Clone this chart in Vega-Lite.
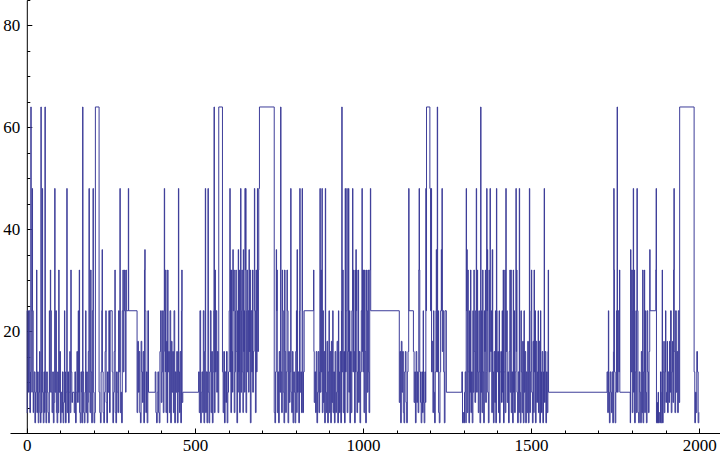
{
"$schema":"https://vega.github.io/schema/vega-lite/v6.json",
"width":710,"height":433,"autosize":"none",
"padding":{"left":10,"top":0,"right":0,"bottom":28},
"background":"white",
"config":{"view":{"stroke":null},"axis":{"domainColor":"#000","tickColor":"#000","labelColor":"#000","labelFont":"Liberation Serif","labelFontSize":17,"grid":false,"labelFlush":false,"labelOverlap":false,"domainWidth":1,"tickWidth":1}},
"data":{"values":[
{"x":0,"y":4},{"x":1,"y":24},{"x":5,"y":8},{"x":7,"y":24},{"x":9,"y":4},{"x":11,"y":12},{"x":12,"y":64},{"x":13,"y":24},{"x":15,"y":8},{"x":16,"y":48},{"x":17,"y":24},{"x":19,"y":4},{"x":20,"y":8},{"x":22,"y":12},{"x":24,"y":2},{"x":26,"y":8},{"x":28,"y":12},{"x":29,"y":32},{"x":30,"y":4},{"x":32,"y":12},{"x":34,"y":2},{"x":36,"y":8},{"x":38,"y":16},{"x":39,"y":4},{"x":41,"y":2},{"x":42,"y":64},{"x":43,"y":4},{"x":45,"y":12},{"x":46,"y":48},{"x":47,"y":8},{"x":49,"y":2},{"x":51,"y":12},{"x":53,"y":4},{"x":54,"y":64},{"x":55,"y":8},{"x":57,"y":2},{"x":59,"y":12},{"x":61,"y":8},{"x":63,"y":4},{"x":65,"y":2},{"x":67,"y":24},{"x":68,"y":8},{"x":70,"y":32},{"x":71,"y":24},{"x":73,"y":8},{"x":75,"y":4},{"x":77,"y":12},{"x":79,"y":2},{"x":81,"y":6},{"x":83,"y":48},{"x":84,"y":8},{"x":86,"y":24},{"x":88,"y":4},{"x":90,"y":2},{"x":92,"y":12},{"x":93,"y":4},{"x":95,"y":32},{"x":96,"y":8},{"x":98,"y":16},{"x":100,"y":2},{"x":102,"y":8},{"x":104,"y":4},{"x":106,"y":12},{"x":108,"y":2},{"x":110,"y":6},{"x":112,"y":24},{"x":113,"y":12},{"x":115,"y":2},{"x":117,"y":8},{"x":119,"y":48},{"x":120,"y":4},{"x":122,"y":12},{"x":124,"y":2},{"x":126,"y":8},{"x":128,"y":16},{"x":129,"y":4},{"x":131,"y":32},{"x":132,"y":12},{"x":134,"y":6},{"x":136,"y":8},{"x":141,"y":4},{"x":143,"y":12},{"x":145,"y":2},{"x":147,"y":8},{"x":149,"y":16},{"x":151,"y":6},{"x":153,"y":24},{"x":154,"y":8},{"x":156,"y":32},{"x":157,"y":4},{"x":159,"y":2},{"x":161,"y":12},{"x":163,"y":8},{"x":164,"y":2},{"x":166,"y":64},{"x":167,"y":12},{"x":169,"y":4},{"x":171,"y":2},{"x":173,"y":8},{"x":175,"y":24},{"x":176,"y":4},{"x":178,"y":12},{"x":180,"y":2},{"x":182,"y":6},{"x":183,"y":16},{"x":185,"y":48},{"x":186,"y":8},{"x":188,"y":4},{"x":190,"y":32},{"x":191,"y":12},{"x":193,"y":2},{"x":195,"y":24},{"x":197,"y":48},{"x":198,"y":8},{"x":200,"y":2},{"x":202,"y":4},{"x":204,"y":64},{"x":215,"y":8},{"x":217,"y":4},{"x":219,"y":2},{"x":221,"y":12},{"x":223,"y":24},{"x":224,"y":36},{"x":225,"y":12},{"x":227,"y":4},{"x":229,"y":2},{"x":231,"y":8},{"x":233,"y":16},{"x":235,"y":24},{"x":236,"y":6},{"x":238,"y":2},{"x":240,"y":12},{"x":242,"y":8},{"x":244,"y":24},{"x":246,"y":4},{"x":248,"y":24},{"x":254,"y":12},{"x":256,"y":2},{"x":258,"y":8},{"x":260,"y":16},{"x":262,"y":32},{"x":263,"y":4},{"x":265,"y":2},{"x":267,"y":12},{"x":269,"y":8},{"x":271,"y":4},{"x":273,"y":24},{"x":275,"y":12},{"x":277,"y":48},{"x":278,"y":4},{"x":280,"y":8},{"x":282,"y":2},{"x":284,"y":24},{"x":286,"y":32},{"x":287,"y":12},{"x":289,"y":24},
{"x":291,"y":32},{"x":292,"y":24},{"x":294,"y":8},{"x":295,"y":32},{"x":296,"y":24},{"x":302,"y":48},{"x":303,"y":24},{"x":328,"y":4},{"x":330,"y":18},{"x":332,"y":8},{"x":334,"y":16},{"x":336,"y":4},{"x":338,"y":2},{"x":340,"y":18},{"x":342,"y":12},{"x":344,"y":6},{"x":346,"y":16},{"x":348,"y":2},{"x":350,"y":32},{"x":351,"y":36},{"x":352,"y":24},{"x":354,"y":4},{"x":356,"y":12},{"x":358,"y":2},{"x":360,"y":24},{"x":362,"y":8},{"x":382,"y":12},{"x":384,"y":4},{"x":386,"y":2},{"x":388,"y":8},{"x":390,"y":12},{"x":392,"y":4},{"x":394,"y":2},{"x":396,"y":16},{"x":398,"y":24},{"x":400,"y":6},{"x":402,"y":12},{"x":404,"y":24},{"x":406,"y":4},{"x":408,"y":16},{"x":409,"y":48},{"x":410,"y":24},{"x":412,"y":12},{"x":413,"y":32},{"x":414,"y":4},{"x":416,"y":18},{"x":418,"y":2},{"x":419,"y":32},{"x":420,"y":12},{"x":422,"y":16},{"x":424,"y":4},{"x":426,"y":24},{"x":428,"y":2},{"x":430,"y":18},{"x":432,"y":8},{"x":434,"y":16},{"x":436,"y":4},{"x":438,"y":24},{"x":440,"y":2},{"x":442,"y":12},{"x":444,"y":8},{"x":446,"y":16},{"x":448,"y":2},{"x":450,"y":8},{"x":451,"y":48},{"x":452,"y":12},{"x":454,"y":4},{"x":456,"y":16},{"x":458,"y":2},{"x":460,"y":24},{"x":461,"y":32},{"x":462,"y":6},{"x":464,"y":8},{"x":511,"y":12},{"x":513,"y":4},{"x":515,"y":24},{"x":517,"y":2},{"x":519,"y":8},{"x":521,"y":12},{"x":523,"y":4},{"x":525,"y":24},{"x":527,"y":2},{"x":529,"y":16},{"x":531,"y":48},{"x":532,"y":4},{"x":534,"y":12},{"x":536,"y":2},{"x":538,"y":12},{"x":539,"y":48},{"x":540,"y":8},{"x":542,"y":2},{"x":544,"y":12},{"x":546,"y":24},{"x":548,"y":4},{"x":550,"y":16},{"x":552,"y":2},{"x":554,"y":12},{"x":556,"y":24},{"x":557,"y":64},{"x":558,"y":4},{"x":560,"y":32},{"x":561,"y":12},{"x":563,"y":24},{"x":565,"y":8},{"x":567,"y":16},{"x":569,"y":4},
{"x":571,"y":64},{"x":582,"y":12},{"x":584,"y":4},{"x":586,"y":16},{"x":588,"y":2},{"x":590,"y":12},{"x":592,"y":6},{"x":594,"y":16},{"x":596,"y":2},{"x":598,"y":8},{"x":600,"y":12},{"x":602,"y":24},{"x":604,"y":48},{"x":605,"y":12},{"x":606,"y":32},{"x":607,"y":4},{"x":609,"y":32},{"x":610,"y":16},{"x":612,"y":8},{"x":613,"y":36},{"x":614,"y":24},{"x":616,"y":32},{"x":617,"y":4},{"x":619,"y":12},{"x":621,"y":24},{"x":622,"y":32},{"x":623,"y":16},{"x":625,"y":2},{"x":627,"y":24},{"x":628,"y":8},{"x":629,"y":36},{"x":630,"y":12},{"x":632,"y":32},{"x":633,"y":4},{"x":635,"y":24},{"x":636,"y":48},{"x":637,"y":8},{"x":639,"y":24},{"x":640,"y":32},{"x":641,"y":12},{"x":643,"y":4},{"x":644,"y":36},{"x":645,"y":16},{"x":647,"y":24},{"x":648,"y":8},{"x":649,"y":48},{"x":650,"y":32},{"x":651,"y":48},{"x":652,"y":4},{"x":654,"y":24},{"x":655,"y":32},{"x":656,"y":12},{"x":658,"y":24},{"x":660,"y":8},{"x":661,"y":36},{"x":662,"y":16},{"x":664,"y":32},{"x":665,"y":2},{"x":667,"y":24},{"x":669,"y":12},{"x":671,"y":32},{"x":672,"y":8},{"x":674,"y":16},{"x":676,"y":32},{"x":677,"y":48},{"x":678,"y":24},{"x":680,"y":4},{"x":682,"y":32},{"x":683,"y":12},{"x":685,"y":24},{"x":686,"y":48},{"x":687,"y":16},{"x":689,"y":32},{"x":690,"y":48},{"x":692,"y":64},{"x":736,"y":4},{"x":738,"y":2},{"x":740,"y":12},{"x":742,"y":36},{"x":743,"y":24},{"x":744,"y":32},{"x":745,"y":4},{"x":747,"y":12},{"x":749,"y":2},{"x":751,"y":16},{"x":753,"y":8},{"x":755,"y":64},{"x":756,"y":12},{"x":758,"y":4},{"x":760,"y":32},{"x":761,"y":24},{"x":763,"y":8},{"x":765,"y":2},{"x":767,"y":32},{"x":768,"y":16},{"x":770,"y":4},{"x":772,"y":12},{"x":774,"y":32},{"x":775,"y":24},{"x":777,"y":2},{"x":779,"y":16},{"x":781,"y":6},{"x":783,"y":12},{"x":785,"y":48},{"x":786,"y":8},{"x":788,"y":4},{"x":790,"y":16},{"x":792,"y":2},{"x":794,"y":12},{"x":796,"y":8},{"x":798,"y":2},{"x":800,"y":16},{"x":802,"y":24},{"x":803,"y":4},{"x":804,"y":36},{"x":805,"y":8},{"x":807,"y":12},{"x":809,"y":2},{"x":811,"y":24},{"x":812,"y":48},{"x":813,"y":8},{"x":815,"y":12},{"x":817,"y":4},{"x":819,"y":48},{"x":820,"y":24},{"x":821,"y":4},{"x":823,"y":12},{"x":825,"y":24},{"x":853,"y":32},{"x":854,"y":16},
{"x":855,"y":6},{"x":857,"y":12},{"x":859,"y":4},{"x":861,"y":16},{"x":863,"y":2},{"x":865,"y":8},{"x":867,"y":16},{"x":869,"y":4},{"x":871,"y":12},{"x":872,"y":48},{"x":873,"y":8},{"x":875,"y":32},{"x":876,"y":12},{"x":878,"y":48},{"x":879,"y":4},{"x":881,"y":24},{"x":882,"y":6},{"x":884,"y":16},{"x":886,"y":2},{"x":888,"y":48},{"x":889,"y":8},{"x":891,"y":4},{"x":893,"y":18},{"x":895,"y":2},{"x":897,"y":12},{"x":899,"y":24},{"x":900,"y":4},{"x":902,"y":16},{"x":904,"y":2},{"x":906,"y":18},{"x":908,"y":6},{"x":910,"y":24},{"x":911,"y":4},{"x":913,"y":12},{"x":915,"y":2},{"x":917,"y":16},{"x":919,"y":4},{"x":921,"y":8},{"x":923,"y":18},{"x":925,"y":2},{"x":927,"y":24},{"x":928,"y":12},{"x":930,"y":4},{"x":932,"y":16},{"x":934,"y":2},{"x":936,"y":24},{"x":937,"y":64},{"x":938,"y":12},{"x":940,"y":32},{"x":941,"y":4},{"x":943,"y":16},{"x":945,"y":2},{"x":947,"y":48},{"x":948,"y":12},{"x":950,"y":24},{"x":952,"y":48},{"x":953,"y":4},{"x":955,"y":16},{"x":957,"y":48},{"x":958,"y":8},{"x":960,"y":24},{"x":961,"y":2},{"x":963,"y":16},{"x":965,"y":4},{"x":967,"y":24},{"x":969,"y":48},{"x":970,"y":12},{"x":972,"y":32},{"x":973,"y":16},{"x":975,"y":2},{"x":977,"y":32},{"x":978,"y":12},{"x":979,"y":36},{"x":980,"y":24},{"x":981,"y":32},{"x":982,"y":4},{"x":984,"y":12},{"x":986,"y":32},{"x":987,"y":6},{"x":989,"y":16},{"x":991,"y":2},{"x":993,"y":12},{"x":995,"y":24},{"x":997,"y":48},{"x":998,"y":16},{"x":999,"y":32},{"x":1000,"y":12},{"x":1002,"y":32},{"x":1003,"y":4},{"x":1005,"y":32},{"x":1006,"y":16},{"x":1008,"y":2},{"x":1010,"y":32},{"x":1011,"y":24},{"x":1013,"y":8},{"x":1015,"y":32},{"x":1016,"y":12},{"x":1018,"y":4},{"x":1020,"y":32},{"x":1022,"y":48},{"x":1023,"y":24},{"x":1108,"y":6},{"x":1110,"y":16},{"x":1112,"y":2},{"x":1114,"y":18},{"x":1116,"y":8},{"x":1118,"y":16},{"x":1120,"y":4},{"x":1122,"y":2},{"x":1124,"y":12},{"x":1126,"y":16},{"x":1128,"y":6},{"x":1130,"y":2},{"x":1132,"y":12},{"x":1134,"y":16},{"x":1136,"y":48},{"x":1137,"y":24},
{"x":1150,"y":16},{"x":1152,"y":6},{"x":1154,"y":12},{"x":1156,"y":2},{"x":1158,"y":16},{"x":1160,"y":6},{"x":1162,"y":12},{"x":1164,"y":4},{"x":1166,"y":32},{"x":1167,"y":48},{"x":1168,"y":32},{"x":1169,"y":12},{"x":1171,"y":6},{"x":1173,"y":2},{"x":1175,"y":12},{"x":1177,"y":4},{"x":1179,"y":24},{"x":1180,"y":6},{"x":1182,"y":2},{"x":1184,"y":12},{"x":1186,"y":6},{"x":1187,"y":48},{"x":1188,"y":24},{"x":1189,"y":64},{"x":1199,"y":48},{"x":1201,"y":24},{"x":1203,"y":48},{"x":1204,"y":12},{"x":1206,"y":18},{"x":1208,"y":4},{"x":1210,"y":24},{"x":1211,"y":8},{"x":1213,"y":2},{"x":1215,"y":12},{"x":1217,"y":24},{"x":1218,"y":36},{"x":1219,"y":12},{"x":1221,"y":64},{"x":1222,"y":12},{"x":1224,"y":24},{"x":1225,"y":4},{"x":1227,"y":2},{"x":1229,"y":12},{"x":1231,"y":24},{"x":1233,"y":36},{"x":1234,"y":24},{"x":1235,"y":48},{"x":1236,"y":16},{"x":1238,"y":24},{"x":1240,"y":12},{"x":1242,"y":2},{"x":1244,"y":24},{"x":1248,"y":8},{"x":1294,"y":12},{"x":1296,"y":2},{"x":1298,"y":4},{"x":1300,"y":2},{"x":1302,"y":8},{"x":1304,"y":12},{"x":1306,"y":2},{"x":1307,"y":48},{"x":1308,"y":24},{"x":1309,"y":36},{"x":1310,"y":4},{"x":1312,"y":32},{"x":1313,"y":12},{"x":1315,"y":2},{"x":1317,"y":24},{"x":1318,"y":8},{"x":1320,"y":32},{"x":1321,"y":4},{"x":1323,"y":12},{"x":1325,"y":2},{"x":1327,"y":24},{"x":1328,"y":8},{"x":1330,"y":32},{"x":1331,"y":16},{"x":1333,"y":6},{"x":1335,"y":24},{"x":1337,"y":48},{"x":1338,"y":8},{"x":1340,"y":32},{"x":1341,"y":12},{"x":1343,"y":4},{"x":1345,"y":24},{"x":1346,"y":12},{"x":1348,"y":2},{"x":1350,"y":64},{"x":1351,"y":8},{"x":1353,"y":24},{"x":1354,"y":4},{"x":1356,"y":32},{"x":1357,"y":12},{"x":1359,"y":2},{"x":1361,"y":24},{"x":1362,"y":16},{"x":1364,"y":32},{"x":1365,"y":6},{"x":1367,"y":12},{"x":1368,"y":48},{"x":1369,"y":24},{"x":1370,"y":36},{"x":1371,"y":8},{"x":1373,"y":2},{"x":1375,"y":32},{"x":1376,"y":12},{"x":1378,"y":48},{"x":1379,"y":36},{"x":1380,"y":16},{"x":1382,"y":24},{"x":1383,"y":4},{"x":1385,"y":36},{"x":1386,"y":12},{"x":1388,"y":2},{"x":1390,"y":16},{"x":1392,"y":6},{"x":1394,"y":24},{"x":1395,"y":2},{"x":1397,"y":48},{"x":1398,"y":24},{"x":1399,"y":12},{"x":1401,"y":16},{"x":1403,"y":4},{"x":1405,"y":24},{"x":1406,"y":2},{"x":1408,"y":12},{"x":1410,"y":16},{"x":1412,"y":6},{"x":1414,"y":24},{"x":1415,"y":8},{"x":1417,"y":32},{"x":1418,"y":2},{"x":1420,"y":12},{"x":1422,"y":32},{"x":1423,"y":4},{"x":1425,"y":48},{"x":1426,"y":16},{"x":1428,"y":24},{"x":1429,"y":6},{"x":1431,"y":12},{"x":1433,"y":2},{"x":1435,"y":16},
{"x":1437,"y":32},{"x":1438,"y":8},{"x":1440,"y":32},{"x":1441,"y":4},{"x":1443,"y":12},{"x":1445,"y":2},{"x":1447,"y":32},{"x":1448,"y":8},{"x":1450,"y":24},{"x":1451,"y":4},{"x":1453,"y":12},{"x":1455,"y":48},{"x":1456,"y":16},{"x":1457,"y":32},{"x":1458,"y":8},{"x":1460,"y":2},{"x":1462,"y":12},{"x":1464,"y":4},{"x":1465,"y":48},{"x":1466,"y":8},{"x":1468,"y":2},{"x":1470,"y":24},{"x":1471,"y":12},{"x":1473,"y":4},{"x":1475,"y":18},{"x":1477,"y":2},{"x":1479,"y":24},{"x":1480,"y":8},{"x":1482,"y":16},{"x":1484,"y":2},{"x":1486,"y":12},{"x":1488,"y":4},{"x":1490,"y":18},{"x":1492,"y":2},{"x":1494,"y":12},{"x":1495,"y":48},{"x":1496,"y":4},{"x":1498,"y":12},{"x":1500,"y":24},{"x":1501,"y":32},{"x":1502,"y":8},{"x":1504,"y":2},{"x":1506,"y":18},{"x":1508,"y":4},{"x":1509,"y":32},{"x":1510,"y":12},{"x":1512,"y":24},{"x":1513,"y":2},{"x":1515,"y":18},{"x":1517,"y":6},{"x":1519,"y":12},{"x":1521,"y":24},{"x":1522,"y":4},{"x":1524,"y":18},{"x":1526,"y":2},{"x":1528,"y":24},{"x":1529,"y":12},{"x":1531,"y":4},{"x":1533,"y":16},{"x":1535,"y":2},{"x":1537,"y":12},{"x":1539,"y":48},{"x":1540,"y":6},{"x":1542,"y":16},{"x":1544,"y":2},{"x":1546,"y":12},{"x":1548,"y":4},{"x":1550,"y":16},{"x":1551,"y":32},{"x":1552,"y":8},
{"x":1726,"y":12},{"x":1728,"y":4},{"x":1730,"y":24},{"x":1731,"y":8},{"x":1733,"y":2},{"x":1735,"y":12},{"x":1737,"y":8},{"x":1739,"y":4},{"x":1741,"y":12},{"x":1743,"y":2},{"x":1745,"y":16},{"x":1746,"y":48},{"x":1747,"y":32},{"x":1748,"y":12},{"x":1750,"y":2},{"x":1752,"y":8},{"x":1754,"y":24},{"x":1756,"y":64},{"x":1757,"y":8},{"x":1759,"y":24},{"x":1761,"y":12},{"x":1763,"y":32},{"x":1764,"y":8},{"x":1795,"y":2},{"x":1796,"y":36},{"x":1797,"y":32},{"x":1798,"y":12},{"x":1800,"y":32},{"x":1801,"y":4},{"x":1803,"y":24},{"x":1804,"y":48},{"x":1805,"y":8},{"x":1807,"y":32},{"x":1808,"y":2},{"x":1810,"y":12},{"x":1812,"y":24},{"x":1813,"y":4},{"x":1815,"y":48},{"x":1816,"y":24},{"x":1818,"y":4},{"x":1820,"y":2},{"x":1822,"y":12},{"x":1824,"y":8},{"x":1826,"y":2},{"x":1828,"y":16},{"x":1830,"y":4},{"x":1832,"y":32},{"x":1833,"y":2},{"x":1835,"y":12},{"x":1837,"y":32},{"x":1838,"y":4},{"x":1840,"y":24},{"x":1841,"y":8},{"x":1843,"y":2},{"x":1845,"y":24},{"x":1847,"y":12},{"x":1849,"y":4},{"x":1851,"y":16},{"x":1853,"y":36},{"x":1854,"y":24},{"x":1871,"y":32},{"x":1872,"y":48},{"x":1873,"y":2},{"x":1875,"y":6},{"x":1876,"y":2},{"x":1878,"y":8},{"x":1879,"y":2},{"x":1881,"y":4},{"x":1883,"y":2},{"x":1885,"y":12},{"x":1887,"y":2},{"x":1889,"y":8},{"x":1890,"y":32},{"x":1891,"y":2},{"x":1893,"y":12},{"x":1895,"y":18},{"x":1896,"y":4},{"x":1898,"y":12},{"x":1900,"y":24},{"x":1901,"y":6},{"x":1903,"y":8},{"x":1905,"y":18},{"x":1906,"y":4},{"x":1908,"y":12},{"x":1910,"y":6},{"x":1912,"y":18},{"x":1913,"y":8},{"x":1915,"y":24},{"x":1917,"y":4},{"x":1919,"y":12},{"x":1921,"y":18},{"x":1922,"y":6},{"x":1924,"y":32},{"x":1925,"y":48},{"x":1926,"y":16},{"x":1928,"y":4},{"x":1930,"y":24},{"x":1932,"y":8},{"x":1934,"y":16},{"x":1936,"y":4},{"x":1938,"y":24},{"x":1940,"y":6},{"x":1942,"y":64},{"x":1985,"y":12},{"x":1987,"y":2},{"x":1989,"y":8},{"x":1991,"y":4},{"x":1993,"y":16},{"x":1995,"y":12},{"x":1997,"y":2},{"x":1999,"y":4},{"x":2000,"y":4}
]},
"mark":{"type":"line","interpolate":"step-after","color":"#3d3d99","strokeWidth":1},
"encoding":{
"x":{"field":"x","type":"quantitative","scale":{"domain":[-50,2062],"nice":false,"zero":false},
"axis":{"title":null,"values":[0,100,200,300,400,500,600,700,800,900,1000,1100,1200,1300,1400,1500,1600,1700,1800,1900,2000],"format":"d","labelExpr":"datum.value % 500 === 0 ? datum.label : ''","tickSize":{"condition":{"test":"datum.value % 500 === 0","value":-5},"value":-3},"labelPadding":9}},
"y":{"field":"y","type":"quantitative","scale":{"domain":[0,85],"nice":false,"zero":false},
"axis":{"title":null,"offset":-16.8,"values":[5,10,15,20,25,30,35,40,45,50,55,60,65,70,75,80,85],"format":"d","labelExpr":"datum.value % 20 === 0 ? datum.label : ''","tickSize":{"condition":{"test":"datum.value % 20 === 0","value":-5},"value":-3},"labelPadding":12}}
}
}
